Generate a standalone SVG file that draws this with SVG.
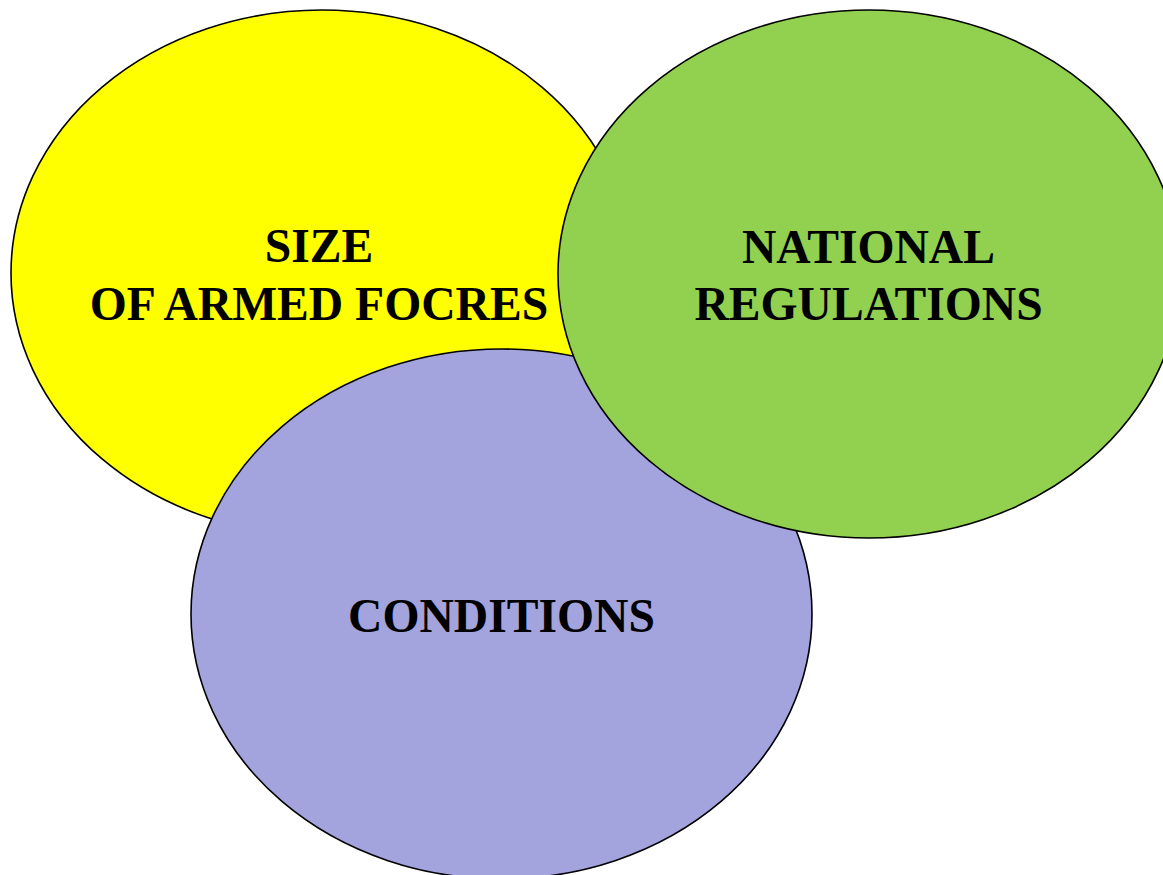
<svg xmlns="http://www.w3.org/2000/svg" width="1163" height="875" viewBox="0 0 1163 875">
<style>
.c{stroke:#000;stroke-width:1.6}
.t{font-family:"Liberation Serif","Times New Roman",serif;font-weight:bold;font-size:47.6px;fill:#000;text-anchor:middle}
</style>
<rect width="1163" height="875" fill="#fff"/>
<g id="size">
<ellipse class="c" cx="322" cy="273" rx="311" ry="263" fill="#ffff00"/>
</g>
<g id="conditions">
<ellipse class="c" cx="501.5" cy="614" rx="310.5" ry="265" fill="#a3a3de"/>
<text class="t" x="501.5" y="632">CONDITIONS</text>
</g>
<g id="national">
<ellipse class="c" cx="869" cy="274" rx="311" ry="264" fill="#92d050"/>
<text class="t" x="868.5" y="263">NATIONAL</text>
<text class="t" x="868.5" y="320">REGULATIONS</text>
</g>
<g id="size-label">
<text class="t" x="319" y="262">SIZE</text>
<text class="t" x="319" y="320">OF ARMED FOCRES</text>
</g>
<g id="connectors"/>
</svg>
